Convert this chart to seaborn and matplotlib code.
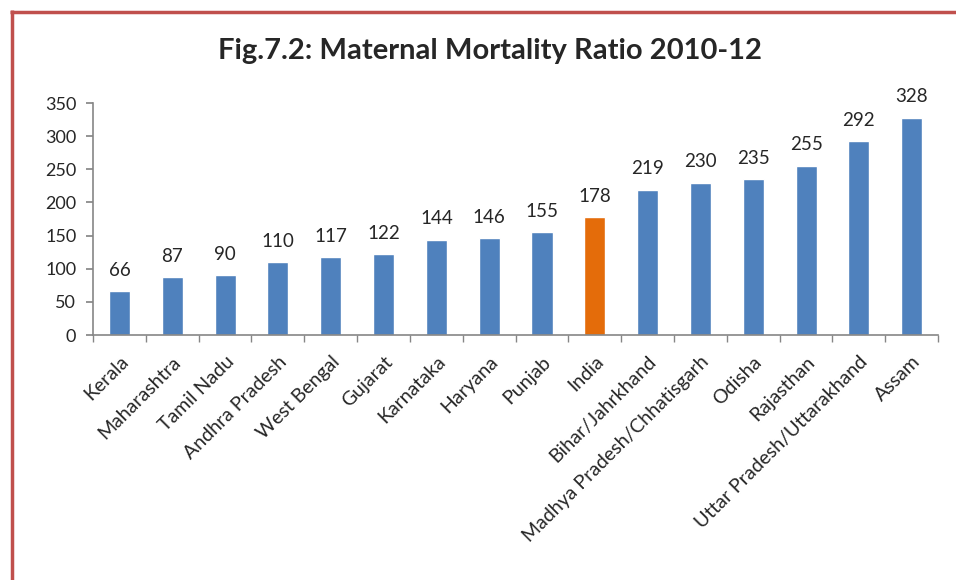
import matplotlib
matplotlib.use("Agg")
import matplotlib.pyplot as plt
import seaborn as sns
import pandas as pd
from matplotlib.lines import Line2D

states = ["Kerala", "Maharashtra", "Tamil Nadu", "Andhra Pradesh", "West Bengal", "Gujarat",
          "Karnataka", "Haryana", "Punjab", "India", "Bihar/Jahrkhand",
          "Madhya Pradesh/Chhatisgarh", "Odisha", "Rajasthan", "Uttar Pradesh/Uttarakhand", "Assam"]
mmr = [66, 87, 90, 110, 117, 122, 144, 146, 155, 178, 219, 230, 235, 255, 292, 328]
yticks = [0, 50, 100, 150, 200, 250, 300, 350]
title = "Fig.7.2: Maternal Mortality Ratio 2010-12"

sns.set_theme(style="white")
plt.rcParams["font.family"] = ["Lato", "DejaVu Sans"]

df = pd.DataFrame({"state": states, "mmr": mmr})
palette = ["#E46C0A" if s == "India" else "#4F81BD" for s in states]

fig = plt.figure(figsize=(9.56, 5.8), dpi=100)
ax = fig.add_axes([0.0973, 0.4224, 0.884, 0.40])
sns.barplot(data=df, x="state", y="mmr", hue="state", palette=palette, legend=False,
            width=0.4, ax=ax, saturation=1)

ax.set_ylim(0, 350)
ax.set_xlim(-0.5, len(states) - 0.5)
ax.set_yticks(yticks)
ax.set_yticklabels([str(t) for t in yticks], fontsize=13)
ax.set_xlabel("")
ax.set_ylabel("")
for c in ax.containers:
    ax.bar_label(c, fontsize=13.5, padding=9)

ax.set_xticks(range(len(states)))
ax.set_xticklabels(states, rotation=45, ha="right", rotation_mode="anchor", fontsize=14)
ax.tick_params(axis="x", length=0, pad=13)
ax.tick_params(axis="y", length=5, color="#868686", left=True, pad=7)
# category boundary ticks
ax.set_xticks([i - 0.5 for i in range(len(states) + 1)], minor=True)
ax.tick_params(axis="x", which="minor", length=5, color="#868686", bottom=True)
ax.tick_params(axis="x", which="major", bottom=False)

for side in ["top", "right"]:
    ax.spines[side].set_visible(False)
for side in ["left", "bottom"]:
    ax.spines[side].set_color("#868686")
    ax.spines[side].set_linewidth(1.2)

fig.text(0.513, 0.912, title, ha="center", va="center", fontsize=21, fontweight="bold")

# red frame
red = "#C0504D"
fig.add_artist(Line2D([11.5/956, 11.5/956], [0, 1 - 10/580], transform=fig.transFigure,
                      color=red, linewidth=2.5, solid_capstyle="butt"))
fig.add_artist(Line2D([10/956, 1], [1 - 11.5/580, 1 - 11.5/580], transform=fig.transFigure,
                      color=red, linewidth=2.5, solid_capstyle="butt"))

fig.savefig("out.png", dpi=100)
